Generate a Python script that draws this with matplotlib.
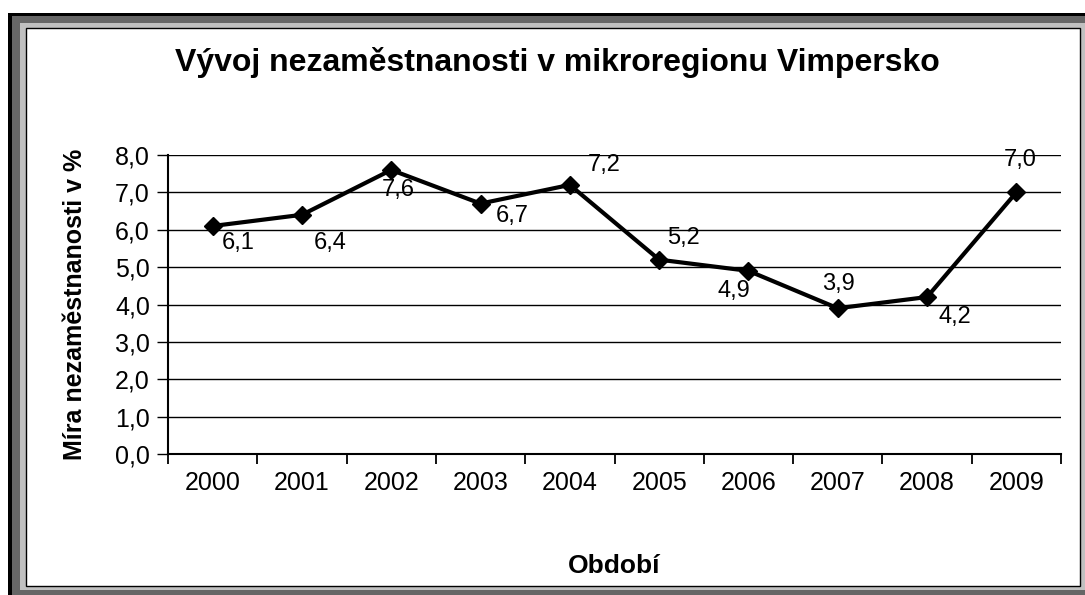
import matplotlib
matplotlib.use("Agg")
import matplotlib.pyplot as plt
from matplotlib.patches import Rectangle

plt.rcParams["font.family"] = ["Liberation Sans", "DejaVu Sans"]

years = ["2000", "2001", "2002", "2003", "2004", "2005", "2006", "2007", "2008", "2009"]
rate = [6.1, 6.4, 7.6, 6.7, 7.2, 5.2, 4.9, 3.9, 4.2, 7.0]
# label offsets in pixels (dx right, dy down) relative to each point
label_dx = [26, 28, 7, 32, 34, 24, -15, 1, 28, 4]
label_dy = [17, 28, 20, 12, -20, -22, 20, -24, 20, -32]

W, H = 1085, 595
fig = plt.figure(figsize=(W / 100, H / 100), dpi=100)


def px_rect(x0, y0, x1, y1, **kw):
    # rectangle given in image pixels (top-down)
    r = Rectangle((x0 / W, 1 - y1 / H), (x1 - x0) / W, (y1 - y0) / H,
                  transform=fig.transFigure, zorder=-10, **kw)
    fig.add_artist(r)


# picture frame
px_rect(8, 13, 1100, 600, facecolor="black", edgecolor="none")
px_rect(12, 16, 1100, 600, facecolor="#666666", edgecolor="none")
px_rect(20, 23, 1085, 590, facecolor="#c0c0c0", edgecolor="none")
px_rect(26, 28, 1080, 586, facecolor="white", edgecolor="black", linewidth=1)

ax = fig.add_axes([168 / W, 1 - 454 / H, (1061 - 168) / W, (454 - 155) / H])
ax.patch.set_alpha(0)

x = list(range(len(years)))
ax.plot(x, rate, color="black", linewidth=3, marker="D", markersize=9, zorder=3,
        clip_on=False)

for i, v in enumerate(rate):
    ax.annotate(f"{v:.1f}".replace(".", ","), (i, v),
                xytext=(label_dx[i] * 0.72, -label_dy[i] * 0.72),
                textcoords="offset points", ha="center", va="center",
                fontsize=17, zorder=4)

ax.set_xlim(-0.5, len(years) - 0.5)
ax.set_ylim(0, 8)
ax.set_yticks(range(0, 9))
ax.set_yticklabels([f"{v},0" for v in range(0, 9)], fontsize=18)
ax.set_xticks(x)
ax.set_xticklabels(years, fontsize=18)
ax.set_xticks([i - 0.5 for i in range(len(years) + 1)], minor=True)
ax.tick_params(axis="x", which="major", length=0, pad=12)
ax.tick_params(axis="x", which="minor", length=7, width=1.3, direction="out")
ax.tick_params(axis="y", length=8, width=1, direction="out", pad=5)

ax.grid(axis="y", color="black", linewidth=1)
ax.set_axisbelow(True)
for s in ["top", "right"]:
    ax.spines[s].set_visible(False)
ax.spines["left"].set_linewidth(1.5)
ax.spines["bottom"].set_linewidth(1.5)

ax.set_ylabel("Míra nezaměstnanosti v %", fontsize=18, fontweight="bold", labelpad=20)
ax.set_xlabel("Období", fontsize=19, fontweight="bold", labelpad=43)
fig.text(557 / W, 1 - 62 / H, "Vývoj nezaměstnanosti v mikroregionu Vimpersko",
         ha="center", va="center", fontsize=23, fontweight="bold")

fig.savefig("out.png", dpi=100)
